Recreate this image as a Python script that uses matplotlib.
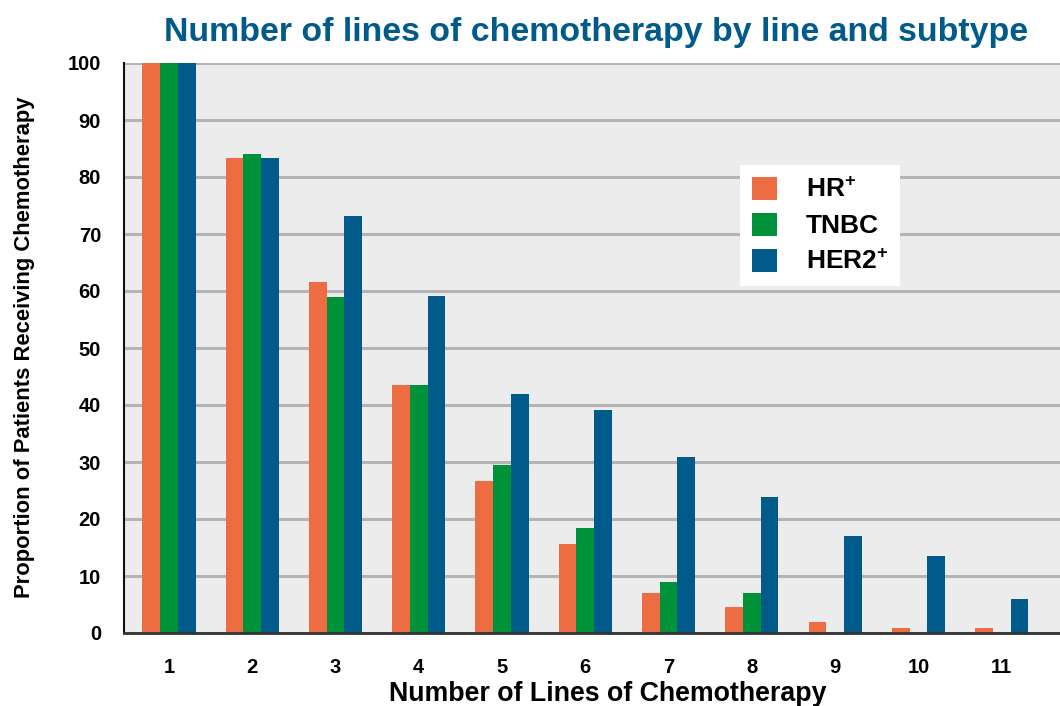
import matplotlib
matplotlib.use("Agg")
import matplotlib.pyplot as plt
import numpy as np

plt.rcParams['font.family'] = ['Liberation Sans', 'DejaVu Sans']
plt.rcParams['font.weight'] = 'bold'
plt.rcParams['mathtext.fontset'] = 'custom'
plt.rcParams['mathtext.rm'] = 'Liberation Sans:bold'
plt.rcParams['mathtext.bf'] = 'Liberation Sans:bold'
plt.rcParams['mathtext.it'] = 'Liberation Sans:bold'

lines = [1, 2, 3, 4, 5, 6, 7, 8, 9, 10, 11]
hr = [100, 83.3, 61.5, 43.5, 26.7, 15.7, 7.0, 4.6, 2.0, 0.9, 0.9]
tnbc = [100, 84.1, 59.0, 43.5, 29.5, 18.5, 9.0, 7.0, 0, 0, 0]
her2 = [100, 83.3, 73.2, 59.1, 42.0, 39.2, 30.8, 23.8, 17.0, 13.5, 6.0]
series_names = [r'HR$^{+}$', 'TNBC', r'HER2$^{+}$']
colors = ['#EE6C42', '#009239', '#005A8A']
yticks = [0, 10, 20, 30, 40, 50, 60, 70, 80, 90, 100]

fig = plt.figure(figsize=(10.6, 7.06), dpi=100)
ax = fig.add_axes([124/1060, 1-633/706, 936/1060, 570/706])
ax.set_facecolor('#ECECEC')

x = np.array(lines, dtype=float)
w = 0.213
for i, (vals, c, name) in enumerate(zip([hr, tnbc, her2], colors, series_names)):
    ax.bar(x + (i - 1) * w, vals, width=w, color=c, label=name, zorder=3)

ax.set_xlim(0.46, 11.70)
ax.set_ylim(0, 100)
ax.set_yticks(yticks)
ax.set_xticks(lines)
ax.yaxis.grid(True, color='#B4B4B4', linewidth=2.2, zorder=1)
ax.set_axisbelow(True)
ax.tick_params(axis='both', length=0, labelsize=14.5)
ax.tick_params(axis='y', pad=16.5)
ax.tick_params(axis='x', pad=18)
for lab in ax.get_xticklabels() + ax.get_yticklabels():
    lab.set_fontweight('bold')

for s in ['top', 'right']:
    ax.spines[s].set_visible(False)
ax.spines['left'].set_color('#111111')
ax.spines['left'].set_linewidth(1.5)
ax.spines['bottom'].set_color('#333333')
ax.spines['bottom'].set_linewidth(2.0)
ax.spines['bottom'].set_zorder(4)

fig.text(596/1060, 1-33/706, 'Number of lines of chemotherapy by line and subtype',
         ha='center', va='center', fontsize=24.4, fontweight='bold', color='#005A8A')
fig.text(25/1060, 1-347/706, 'Proportion of Patients Receiving Chemotherapy',
         ha='center', va='center', rotation=90, fontsize=15.8, fontweight='bold')
fig.text(608/1060, 1-694/706, 'Number of Lines of Chemotherapy',
         ha='center', va='center', fontsize=19.3, fontweight='bold')

leg = ax.legend(loc='upper left', bbox_to_anchor=((740-124)/936, (633-165)/570),
                fontsize=19, frameon=True, fancybox=False, edgecolor='white',
                facecolor='white', framealpha=1, handlelength=0.95, handleheight=0.95,
                handletextpad=1.1, labelspacing=0.4, borderpad=0.45, borderaxespad=0)
leg.get_frame().set_linewidth(0)
for t in leg.get_texts():
    t.set_fontweight('bold')

fig.savefig('out.png', dpi=100, facecolor='white')
